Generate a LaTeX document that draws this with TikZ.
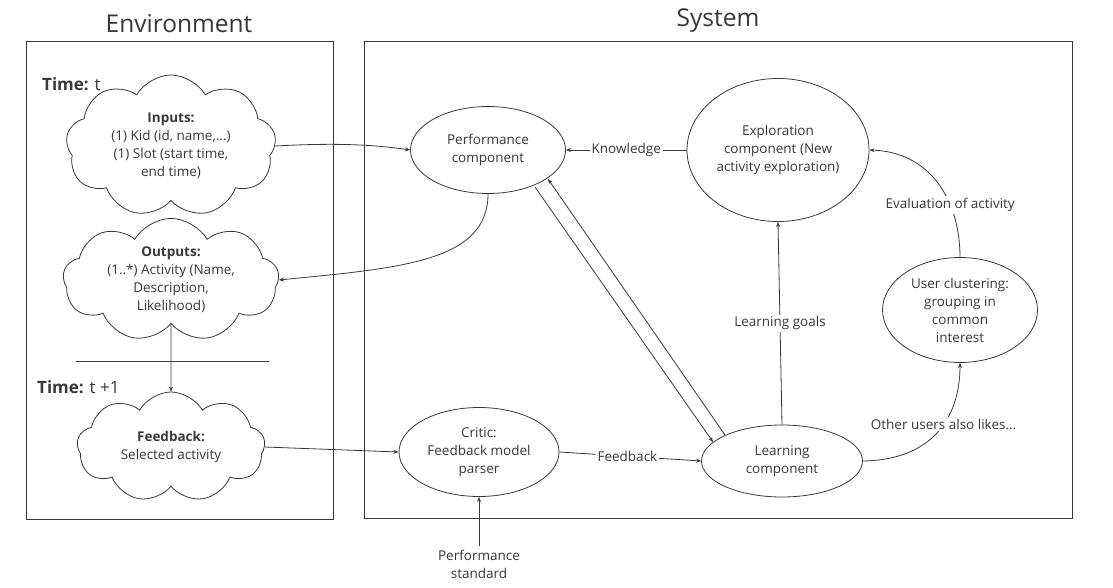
\documentclass[tikz,border=0pt]{standalone}
\usepackage{fontspec}
\setmainfont{Open Sans}
\usetikzlibrary{shapes.symbols,shapes.geometric,arrows.meta}
\definecolor{ink}{HTML}{383838}
\begin{document}
\begin{tikzpicture}[x=1pt,y=-1pt,
  every node/.style={text=ink},
  lbl/.style={font=\fontsize{13.5}{18}\selectfont, align=center},
  comp/.style={ellipse, draw=ink, line width=0.8pt, inner sep=0pt, font=\fontsize{13.5}{18}\selectfont, align=center},
  cld/.style={cloud, cloud puffs=9, cloud puff arc=120, cloud ignores aspect, draw=ink, line width=0.8pt, inner sep=0pt, font=\fontsize{13.5}{18}\selectfont, align=center},
  frame/.style={draw=ink, line width=0.9pt},
  arr/.style={draw=ink, line width=0.8pt, -{Stealth[length=5pt,width=4pt]}},
  ln/.style={draw=ink, line width=0.8pt},
  edgelbl/.style={fill=white, inner sep=2pt, font=\fontsize{13.5}{18}\selectfont}
]
\useasboundingbox (0,0) rectangle (1113,588);
% frames
\draw[frame] (26,41) rectangle (333,519);
\draw[frame] (364,41) rectangle (1072,518);
\node[font=\fontsize{24.5}{28}\selectfont] (envt) at (179,24) {Environment};
\node[font=\fontsize{24.5}{28}\selectfont] (syst) at (718,21) {System};
% time labels
\node[anchor=west, inner sep=0pt, font=\fontsize{17}{20}\selectfont] (t1) at (42,84) {\textbf{Time:} t};
\node[anchor=west, inner sep=0pt, font=\fontsize{17}{20}\selectfont] (t2) at (37,387) {\textbf{Time:} t +1};
\draw[ln] (76,361) -- (269,361);
% clouds
\node[cld, minimum width=210pt, minimum height=142pt] (inp) at (171,146) {\textbf{Inputs:}\\(1) Kid (id, name,...)\\ (1) Slot (start time,\\end time)};
\node[cld, minimum width=216pt, minimum height=118pt] (outp) at (171,280) {\textbf{Outputs:}\\(1..*) Activity (Name,\\Description,\\Likelihood)};
\node[cld, minimum width=188pt, minimum height=110pt] (fb) at (171,447) {\textbf{Feedback:}\\Selected activity};
% components
\node[comp, minimum width=155pt, minimum height=87pt] (perf) at (488,150) {Performance\\component};
\node[comp, minimum width=182pt, minimum height=143pt] (expl) at (778,150) {Exploration\\component (New\\activity exploration)};
\node[comp, minimum width=155pt, minimum height=105pt] (user) at (960,310) {User clustering:\\grouping in\\common\\interest};
\node[comp, minimum width=161pt, minimum height=72pt] (learn) at (782,461) {Learning\\component};
\node[comp, minimum width=160pt, minimum height=89pt] (critic) at (479,452) {Critic:\\Feedback model\\parser};
\node[lbl] (pstd) at (479,564) {Performance\\standard};
% connectors
\draw[arr] (inp.east) .. controls (330,143) and (370,144) .. (perf.west);
\draw[arr] (perf.south) .. controls (488,262) and (400,268) .. (outp.east);
\draw[arr] (outp.south) -- (fb.north);
\draw[arr] (fb.east) -- (critic.west);
\draw[arr] (expl.west) -- node[edgelbl] (klbl) {Knowledge} (perf.east);
\coordinate (pa) at (535,187);
\coordinate (pb) at (548,179);
\coordinate (la) at (713,442);
\coordinate (lb) at (725,435);
\draw[arr] (pa) -- (la);
\draw[arr] (lb) -- (pb);
\draw[arr] (critic.east) -- node[edgelbl, pos=0.48] (flbl) {Feedback} (learn.west);
\draw[arr] (pstd.north) -- (critic.south);
\draw[arr] (learn.north) -- node[edgelbl, pos=0.5] (lglbl) {Learning goals} (expl.south);
\draw[arr] (learn.east) .. controls (930,460) and (960,420) .. node[edgelbl, pos=0.58] (oulbl) {Other users also likes...} (user.south);
\draw[arr] (user.north) .. controls (960,200) and (930,152) .. node[edgelbl, pos=0.33] (evlbl) {Evaluation of activity} (expl.east);
\end{tikzpicture}
\end{document}
